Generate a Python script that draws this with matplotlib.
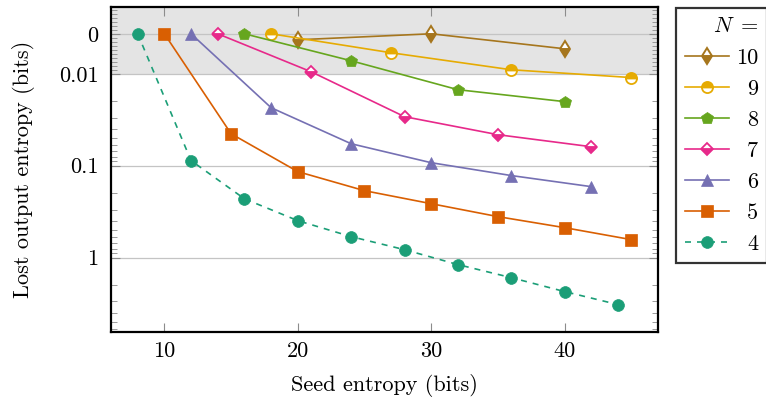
import numpy as np
import matplotlib
matplotlib.use("Agg")
import matplotlib.pyplot as plt
from matplotlib.ticker import FixedLocator, FixedFormatter

plt.rcParams["font.family"] = "serif"
plt.rcParams["font.serif"] = ["cmr10"]
plt.rcParams["mathtext.fontset"] = "cm"
plt.rcParams["axes.unicode_minus"] = False

# Seed entropy (bits) per group size N, with the lost output entropy (bits)
x_n10 = [20, 30, 40]
y_n10 = [0.0015, 0.0, 0.00375]
x_n9 = [18, 27, 36, 45]
y_n9 = [0.0, 0.00475, 0.0090, 0.0110]
x_n8 = [16, 24, 32, 40]
y_n8 = [0.0, 0.00675, 0.0149, 0.0201]
x_n7 = [14, 21, 28, 35, 42]
y_n7 = [0.0, 0.0095, 0.0293, 0.046, 0.0622]
x_n6 = [12, 18, 24, 30, 36, 42]
y_n6 = [0.0, 0.0234, 0.0577, 0.0928, 0.128, 0.169]
x_n5 = [10, 15, 20, 25, 30, 35, 40, 45]
y_n5 = [0.0, 0.0449, 0.116, 0.187, 0.259, 0.358, 0.472, 0.637]
x_n4 = [8, 12, 16, 20, 24, 28, 32, 36, 40, 44]
y_n4 = [0.0, 0.088, 0.229, 0.396, 0.591, 0.819, 1.19, 1.65, 2.34, 3.24]

x_ticks = [10, 20, 30, 40]
y_ticks = [0.0, 0.01, 0.1, 1.0]
y_tick_labels = ["0", "0.01", "0.1", "1"]

FS = 16

fig = plt.figure(figsize=(7.66, 4.05), dpi=100)
ax = fig.add_axes([111 / 766, 1 - 332 / 405, (658 - 111) / 766, (332 - 7) / 405])

ax.set_yscale("symlog", linthresh=0.01, linscale=0.3913)
ax.set_xlim(6, 47)
ax.set_ylim(6.44, -0.0067)

ax.axhspan(-1, 0.01, color="#e4e4e4", zorder=0, lw=0)

c = {"10": "#a6761d", "9": "#e6ab02", "8": "#66a61e", "7": "#e7298a",
     "6": "#7570b3", "5": "#d95f02", "4": "#1b9e77"}
lw = 1.2

ax.plot(x_n10, y_n10, color=c["10"], lw=lw, marker="d", ms=8, mew=1.4,
        fillstyle="bottom", markerfacecoloralt="white", mfc=c["10"], label="10", zorder=3)
ax.plot(x_n9, y_n9, color=c["9"], lw=lw, marker="o", ms=8, mew=1.3,
        fillstyle="top", markerfacecoloralt="white", mfc=c["9"], label="9", zorder=3)
ax.plot(x_n8, y_n8, color=c["8"], lw=lw, marker="p", ms=9, mew=0.5,
        label="8", zorder=3)
ax.plot(x_n7, y_n7, color=c["7"], lw=lw, marker="D", ms=6.5, mew=1.3,
        fillstyle="bottom", markerfacecoloralt="white", mfc=c["7"], label="7", zorder=3)
ax.plot(x_n6, y_n6, color=c["6"], lw=lw, marker="^", ms=8.5, mew=0.5,
        label="6", zorder=3)
ax.plot(x_n5, y_n5, color=c["5"], lw=lw, marker="s", ms=8.5, mew=0.5,
        label="5", zorder=3)
ax.plot(x_n4, y_n4, color=c["4"], lw=lw, ls=(0, (3.6, 3.6)), marker="o", ms=8.5,
        mew=0.5, label="4", zorder=3)

ax.xaxis.set_major_locator(FixedLocator(x_ticks))
ax.yaxis.set_major_locator(FixedLocator(y_ticks))
ax.yaxis.set_major_formatter(FixedFormatter(y_tick_labels))
minor = [k * 0.001 for k in range(-6, 10) if k != 0]
for dec in [0.01, 0.1, 1.0]:
    minor += [m * dec for m in range(2, 10)]
ax.yaxis.set_minor_locator(FixedLocator(minor))
ax.yaxis.set_minor_formatter(FixedFormatter([]))
ax.xaxis.set_minor_locator(FixedLocator([]))

ax.grid(axis="y", which="major", color="#c4c4c4", lw=0.9, zorder=1)
ax.set_axisbelow(True)
ax.tick_params(which="both", direction="in", top=True, right=True,
               color="#8c8c8c", labelsize=FS, pad=7)
ax.tick_params(axis="y", which="both", pad=9)
ax.tick_params(which="major", length=6.5, width=0.8)
ax.tick_params(which="minor", length=4.5, width=0.6)
for s in ax.spines.values():
    s.set_linewidth(1.6)

ax.set_xlabel("Seed entropy (bits)", fontsize=FS, labelpad=9.5)
ax.set_ylabel("Lost output entropy (bits)", fontsize=FS, labelpad=17)

leg = ax.legend(loc="upper left", bbox_to_anchor=(676 / 766, 1 - 8 / 405),
                bbox_transform=fig.transFigure, title=r"$N\;=$",
                fontsize=FS, title_fontsize=FS, frameon=True, fancybox=False,
                edgecolor="black", borderpad=0.4, labelspacing=0.52,
                handlelength=2.0, handletextpad=0.3, borderaxespad=0,
                alignment="right")
leg.get_frame().set_linewidth(1.6)

# right-align the N values inside the legend column
fig.canvas.draw()
renderer = fig.canvas.get_renderer()
widths = [t.get_window_extent(renderer).width for t in leg.get_texts()]
widest = max(widths)
for t, w in zip(leg.get_texts(), widths):
    t.set_position((widest - w, 0))

fig.savefig("out.png", dpi=100)
